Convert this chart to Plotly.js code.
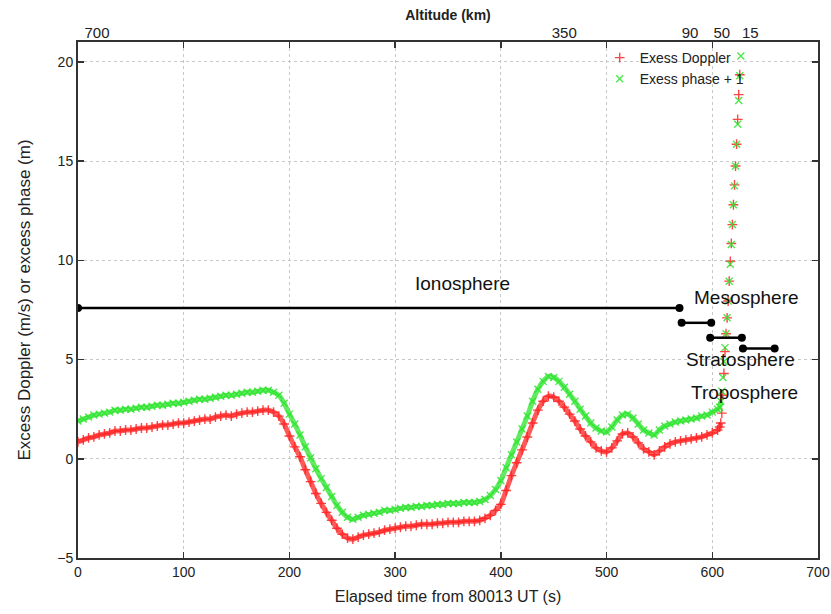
<!DOCTYPE html>
<html>
<head>
<meta charset="utf-8">
<script src="https://cdn.plot.ly/plotly-3.0.1.min.js"></script>
<style>html,body{margin:0;padding:0;background:#fff;}#chart{width:831px;height:614px;}</style>
</head>
<body>
<div id="chart"></div>
<script>
// ---- Data ----
const dopplerTime = [0,5,10,15,20,25,30,35,40,45,50,55,60,65,70,75,80,85,90,95,100,105,110,115,120,125,130,135,140,145,150,155,160,165,170,175,180,185,190,195,200,205,210,215,220,225,230,235,240,245,250,255,260,265,270,275,280,285,290,295,300,305,310,315,320,325,330,335,340,345,350,355,360,365,370,375,380,385,390,395,400,405,410,415,420,425,430,435,440,445,450,455,460,465,470,475,480,485,490,495,500,505,510,515,520,525,530,535,540,545,550,555,560,565,570,575,580,585,590,595,600,605,
  607,608,609,610,611,612,613,614,615,616,617,618,619,620,621,622,623,624,625,626];
const dopplerValue = [0.85,0.95,1.05,1.1,1.2,1.25,1.3,1.4,1.4,1.45,
  1.45,1.5,1.55,1.55,1.6,1.65,1.7,1.7,1.75,1.8,
  1.8,1.85,1.9,1.95,2.0,2.0,2.1,2.15,2.2,2.15,
  2.25,2.3,2.35,2.35,2.4,2.45,2.45,2.35,2.15,1.75,
  1.15,0.6,0.1,-0.55,-1.15,-1.75,-2.25,-2.7,-3.1,-3.5,
  -3.8,-4.0,-4.05,-3.95,-3.85,-3.8,-3.75,-3.7,-3.6,-3.55,
  -3.5,-3.45,-3.4,-3.4,-3.35,-3.3,-3.3,-3.3,-3.25,-3.25,
  -3.2,-3.2,-3.2,-3.15,-3.15,-3.15,-3.1,-3.0,-2.85,-2.6,
  -2.3,-1.6,-0.85,-0.2,0.45,1.1,1.8,2.45,2.9,3.15,
  3.1,2.9,2.6,2.25,1.9,1.5,1.15,0.85,0.55,0.4,
  0.35,0.55,0.9,1.25,1.3,1.1,0.8,0.5,0.35,0.2,
  0.4,0.6,0.75,0.85,0.9,0.95,1.0,1.05,1.1,1.2,
  1.3,1.45,
  1.6,1.8,2.3,3.2,4.3,5.4,6.3,7.1,7.95,8.95,9.95,10.85,11.8,12.8,13.8,14.75,15.85,17.1,18.35,19.35];

const phaseTime = [0,5,10,15,20,25,30,35,40,45,50,55,60,65,70,75,80,85,90,95,100,105,110,115,120,125,130,135,140,145,150,155,160,165,170,175,180,185,190,195,200,205,210,215,220,225,230,235,240,245,250,255,260,265,270,275,280,285,290,295,300,305,310,315,320,325,330,335,340,345,350,355,360,365,370,375,380,385,390,395,400,405,410,415,420,425,430,435,440,445,450,455,460,465,470,475,480,485,490,495,500,505,510,515,520,525,530,535,540,545,550,555,560,565,570,575,580,585,590,595,600,605,
  607,608,609,610,611,612,613,614,615,616,617,618,619,620,621,622,623,624,625,626,627];
const phaseValue = [1.9,2.0,2.1,2.2,2.25,2.3,2.35,2.45,2.45,2.5,
  2.5,2.55,2.6,2.6,2.65,2.7,2.7,2.75,2.8,2.8,
  2.85,2.9,2.95,3.0,3.0,3.05,3.1,3.15,3.2,3.2,
  3.25,3.3,3.35,3.35,3.4,3.45,3.45,3.35,3.2,2.8,
  2.25,1.75,1.2,0.6,0.05,-0.5,-1.0,-1.45,-1.9,-2.35,
  -2.7,-2.95,-3.05,-2.95,-2.85,-2.8,-2.75,-2.7,-2.6,-2.6,
  -2.55,-2.5,-2.45,-2.45,-2.4,-2.4,-2.35,-2.35,-2.3,-2.3,
  -2.25,-2.25,-2.25,-2.2,-2.2,-2.2,-2.15,-2.05,-1.85,-1.55,
  -1.1,-0.45,0.2,0.85,1.5,2.15,2.9,3.5,3.9,4.15,
  4.1,3.9,3.6,3.25,2.9,2.5,2.15,1.8,1.55,1.4,
  1.35,1.6,1.95,2.2,2.25,2.05,1.75,1.45,1.3,1.2,
  1.45,1.65,1.75,1.85,1.9,1.95,2.0,2.05,2.15,2.2,
  2.35,2.5,
  2.6,2.9,3.4,4.1,4.9,5.6,6.3,7.1,7.95,8.95,9.8,10.8,11.8,12.8,13.75,14.75,15.85,16.85,18.05,19.3,20.3];

// Number of densely sampled points (before the sparse tropospheric rise)
const denseCount = 124;

// Atmospheric layers (elapsed-time span and plotted level)
const layerNames = ['Ionosphere','Mesosphere','Stratosphere','Troposphere'];
const layerStart = [0, 571, 598, 629];
const layerEnd   = [569, 599, 628, 659];
const layerLevel = [7.6, 6.85, 6.1, 5.55];
const labelX = [364, 632, 627, 630];
const labelY = [8.85, 8.15, 5.0, 3.35];

// Altitude labels on top axis
const altitudePos = [18, 460, 579, 609, 636];
const altitudeText = ['700','350','90','50','15'];

// ---- Build traces ----
const lx = [], ly = [];
for (let i = 0; i < layerNames.length; i++) {
  lx.push(layerStart[i], layerEnd[i], null);
  ly.push(layerLevel[i], layerLevel[i], null);
}

const FONT = 'Liberation Sans, Arial, sans-serif';
const RED = 'rgba(255,35,35,0.85)';
const GREEN = 'rgba(45,228,45,0.85)';

const traces = [
  { // dense band (Doppler)
    x: dopplerTime.slice(0, denseCount), y: dopplerValue.slice(0, denseCount),
    type: 'scatter', mode: 'lines', showlegend: false, hoverinfo: 'skip',
    line: {color: 'rgba(255,35,35,0.75)', width: 5, shape: 'spline', smoothing: 0.6}
  },
  { // dense band (phase)
    x: phaseTime.slice(0, denseCount), y: phaseValue.slice(0, denseCount),
    type: 'scatter', mode: 'lines', showlegend: false, hoverinfo: 'skip',
    line: {color: 'rgba(45,228,45,0.75)', width: 5, shape: 'spline', smoothing: 0.6}
  },
  {
    x: dopplerTime, y: dopplerValue, type: 'scatter', mode: 'markers',
    name: 'Exess Doppler',
    marker: {symbol: 'cross-thin-open', size: 7, color: RED, line: {width: 1.4, color: RED}}
  },
  {
    x: phaseTime, y: phaseValue, type: 'scatter', mode: 'markers',
    name: 'Exess phase + 1',
    marker: {symbol: 'x-thin-open', size: 7, color: GREEN, line: {width: 1.4, color: GREEN}}
  },
  {
    x: lx, y: ly, type: 'scatter', mode: 'lines+markers', showlegend: false,
    line: {color: '#000', width: 2.5},
    marker: {symbol: 'circle', size: 8, color: '#000'},
    hoverinfo: 'skip'
  },
  {
    x: altitudePos, y: altitudePos.map(() => null), xaxis: 'x2', type: 'scatter',
    mode: 'markers', showlegend: false, hoverinfo: 'skip'
  }
];

const annotations = layerNames.map((n, i) => ({
  x: labelX[i], y: labelY[i], xref: 'x', yref: 'y', text: n, showarrow: false,
  font: {family: FONT, size: 19, color: '#111'}
}));

const layout = {
  width: 831, height: 614,
  margin: {l: 78, r: 13, t: 42, b: 56},
  paper_bgcolor: '#fff', plot_bgcolor: '#fff',
  font: {family: FONT, size: 14, color: '#222'},
  showlegend: true,
  legend: {
    x: 0.705, y: 1.0, xanchor: 'left', yanchor: 'top',
    bgcolor: 'rgba(0,0,0,0)', font: {family: FONT, size: 14, color: '#222'},
    tracegroupgap: 0, itemwidth: 30
  },
  xaxis: {
    range: [0, 700], tickvals: [0,100,200,300,400,500,600,700],
    ticks: 'inside', ticklen: 6, tickwidth: 1.5, tickcolor: '#333',
    showline: true, linecolor: '#333', linewidth: 2, mirror: 'ticks',
    showgrid: true, gridcolor: '#c8c8c8', griddash: 'dot', gridwidth: 1,
    zeroline: false,
    tickfont: {family: FONT, size: 14, color: '#222'},
    title: {text: 'Elapsed time from 80013 UT (s)', font: {family: FONT, size: 16, color: '#222'}, standoff: 12}
  },
  xaxis2: {
    overlaying: 'x', side: 'top', range: [0, 700],
    tickvals: altitudePos, ticktext: altitudeText,
    ticks: '', showgrid: false, showline: false, zeroline: false,
    tickfont: {family: FONT, size: 15, color: '#222'},
    title: {text: '<b>Altitude (km)</b>', font: {family: FONT, size: 14, color: '#222'}, standoff: 0}
  },
  yaxis: {
    range: [-5, 21], tickvals: [-5,0,5,10,15,20],
    ticks: 'inside', ticklen: 6, tickwidth: 1.5, tickcolor: '#333',
    showline: true, linecolor: '#333', linewidth: 2, mirror: 'ticks',
    showgrid: true, gridcolor: '#c8c8c8', griddash: 'dot', gridwidth: 1,
    zeroline: false,
    tickfont: {family: FONT, size: 14, color: '#222'},
    title: {text: 'Excess Doppler (m/s) or excess phase (m)', font: {family: FONT, size: 17, color: '#222'}, standoff: 22}
  },
  annotations: annotations
};

Plotly.newPlot('chart', traces, layout, {displayModeBar: false, staticPlot: true});
</script>
</body>
</html>
